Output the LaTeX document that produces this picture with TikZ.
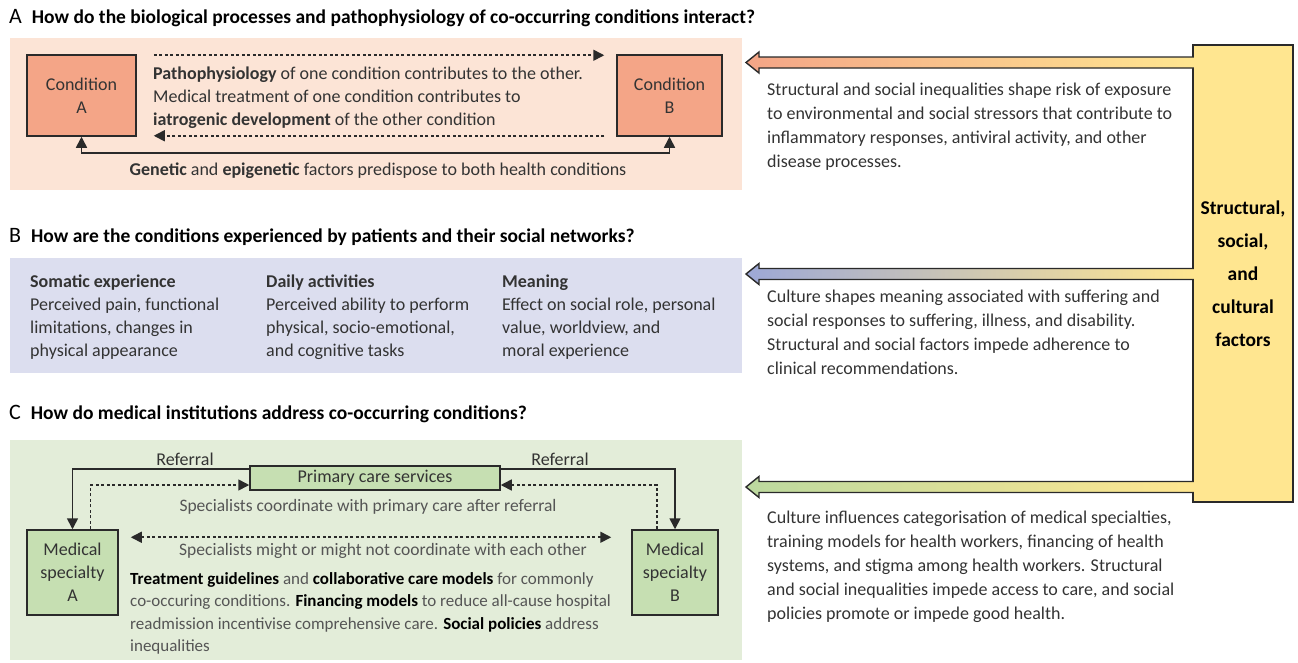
\documentclass[tikz,border=0pt]{standalone}
\usepackage{fontspec}
\setmainfont{Carlito}
\usepackage{xcolor}
\usetikzlibrary{positioning,calc,arrows.meta}

\definecolor{panelA}{HTML}{FCE4D6}
\definecolor{panelB}{HTML}{DCDEEF}
\definecolor{panelC}{HTML}{E3EDD9}
\definecolor{condfill}{HTML}{F4A587}
\definecolor{carefill}{HTML}{C6DFB2}
\definecolor{factorfill}{HTML}{FFE690}
\definecolor{bluearrow}{HTML}{9DA8D6}
\definecolor{greenarrow}{HTML}{BCD99F}
\definecolor{linecol}{HTML}{2A2A2A}
\definecolor{textcol}{HTML}{333333}
\definecolor{softtext}{HTML}{555555}

\begin{document}
\begin{tikzpicture}[x=1pt, y=-1pt,
	panel/.style={rectangle, inner sep=0pt, draw=none},
	box/.style={
		draw=linecol, line width=1.5pt, rectangle, align=center,
		inner sep=0pt, text=textcol, font=\fontsize{18}{23}\selectfont
	},
	bodytext/.style={align=left, inner sep=0pt, text=textcol, font=\fontsize{18}{23}\selectfont},
	sidetext/.style={align=left, inner sep=0pt, text=textcol, font=\fontsize{18}{24}\selectfont},
	titletext/.style={inner sep=0pt, text=black, font=\fontsize{19.5}{22}\selectfont\bfseries},
	dasharrow/.style={line width=1.6pt, draw=linecol, dash pattern=on 3pt off 2.5pt, -{Triangle[length=11pt,width=11pt]}},
	solidarrow/.style={line width=1.6pt, draw=linecol, -{Triangle[length=11pt,width=11pt]}},
	bigarrow/.style={draw=linecol, line width=1.4pt, line join=miter}
	]
	\useasboundingbox (0,0) rectangle (1298,662);
	
	%==================== A: biology ====================
	\node[titletext, anchor=west] (titleA) at (9,18) {{\fontsize{22}{22}\selectfont\mdseries A}\hspace{10pt}How do the biological processes and pathophysiology of co-occurring conditions interact?};
	\node[panel, fill=panelA, minimum width=732, minimum height=152] (panelA) at (376,114) {};
	
	\node[box, fill=condfill, minimum width=109, minimum height=81] (condA) at (81.5,95.5) {Condition\\A};
	\node[box, fill=condfill, minimum width=105, minimum height=81] (condB) at (669.5,95.5) {Condition\\B};
	
	\node[bodytext, anchor=north west] (mechtext) at (153,66.5) {\textbf{Pathophysiology} of one condition contributes to the other.\\Medical treatment of one condition contributes to\\\textbf{iatrogenic development} of the other condition};
	
	\draw[dasharrow] ($(condA.north east)+(17,1)$) -- ($(condB.north west)+(-12,1)$);
	\draw[dasharrow] ($(condB.south west)+(-12,-1)$) -- ($(condA.south east)+(17,-1)$);
	\draw[solidarrow, {Triangle[length=11pt,width=11pt]}-{Triangle[length=11pt,width=11pt]}] (condA.south) -- ++(0,16) -| (condB.south);
	
	\node[bodytext] (genetic) at (378,171) {\textbf{Genetic} and \textbf{epigenetic} factors predispose to both health conditions};
	
	%==================== B: experience ====================
	\node[titletext, anchor=west] (titleB) at (9,237) {{\fontsize{22}{22}\selectfont\mdseries B}\hspace{10pt}How are the conditions experienced by patients and their social networks?};
	\node[panel, fill=panelB, minimum width=732, minimum height=115] (panelB) at (376,315.5) {};
	
	\node[bodytext, anchor=north west] (somatic) at (30,275) {\textbf{Somatic experience}\\Perceived pain, functional\\limitations, changes in\\physical appearance};
	\node[bodytext, anchor=north west] (daily) at (266,275) {\textbf{Daily activities}\\Perceived ability to perform\\physical, socio-emotional,\\and cognitive tasks};
	\node[bodytext, anchor=north west] (meaning) at (502,275) {\textbf{Meaning}\\Effect on social role, personal\\value, worldview, and\\moral experience};
	
	%==================== C: institutions ====================
	\node[titletext, anchor=west] (titleC) at (9,414) {{\fontsize{22}{22}\selectfont\mdseries C}\hspace{10pt}How do medical institutions address co-occurring conditions?};
	\node[panel, fill=panelC, minimum width=732, minimum height=220] (panelC) at (376,550) {};
	
	\node[box, fill=carefill, minimum width=250, minimum height=24] (primary) at (375,478) {Primary care services};
	\node[box, fill=carefill, minimum width=91, minimum height=85] (specA) at (72.5,572.5) {Medical\\specialty\\A};
	\node[box, fill=carefill, minimum width=86, minimum height=85] (specB) at (675,572.5) {Medical\\specialty\\B};
	
	\draw[solidarrow] ($(primary.north west)+(0,4)$) -| (specA.north);
	\draw[solidarrow] ($(primary.north east)+(0,4)$) -| (specB.north);
	\node[bodytext] (referralA) at (185,459) {Referral};
	\node[bodytext] (referralB) at (560,459) {Referral};
	
	\draw[dasharrow] ($(specA.north)+(18,0)$) |- ($(primary.west)+(0,7)$);
	\draw[dasharrow] ($(specB.north)+(-18,0)$) |- ($(primary.east)+(0,7)$);
	\node[bodytext, text=softtext, font=\fontsize{17.5}{23}\selectfont] (coordtext) at (368,507) {Specialists coordinate with primary care after referral};
	
	\draw[dasharrow, {Triangle[length=11pt,width=11pt]}-{Triangle[length=11pt,width=11pt]}] ($(specA.north east)+(12,8)$) -- ($(specB.north west)+(-20,8)$);
	\node[bodytext, text=softtext, font=\fontsize{17.5}{23}\selectfont] (mighttext) at (383,551) {Specialists might or might not coordinate with each other};
	
	\node[bodytext, text=softtext, anchor=north west, font=\fontsize{17}{22.5}\selectfont] (policytext) at (130,572) {\textcolor{black}{\textbf{Treatment guidelines}} and \textcolor{black}{\textbf{collaborative care models}} for commonly\\co-occuring conditions. \textcolor{black}{\textbf{Financing models}} to reduce all-cause hospital\\readmission incentivise comprehensive care. \textcolor{black}{\textbf{Social policies}} address\\inequalities};
	
	%==================== structural, social, cultural factors ====================
	\node[box, fill=factorfill, minimum width=100, minimum height=457, text=black, font=\fontsize{19.5}{33}\selectfont\bfseries] (factors) at (1243,273.5) {Structural,\\social,\\and\\cultural\\factors};
	
	\coordinate (tipA) at (746,62.5);
	\coordinate (tipB) at (746,274);
	\coordinate (tipC) at (746,487);
	\path[bigarrow, left color=condfill, right color=factorfill] ($(factors.west |- tipA)+(1.5,-5.5)$) -- ($(tipA)+(13,-5.5)$) -- ($(tipA)+(13,-10.5)$) -- (tipA) -- ($(tipA)+(13,10.5)$) -- ($(tipA)+(13,5.5)$) -- ($(factors.west |- tipA)+(1.5,5.5)$);
	\path[bigarrow, left color=bluearrow, right color=factorfill] ($(factors.west |- tipB)+(1.5,-5.5)$) -- ($(tipB)+(13,-5.5)$) -- ($(tipB)+(13,-10.5)$) -- (tipB) -- ($(tipB)+(13,10.5)$) -- ($(tipB)+(13,5.5)$) -- ($(factors.west |- tipB)+(1.5,5.5)$);
	\path[bigarrow, left color=greenarrow, right color=factorfill] ($(factors.west |- tipC)+(1.5,-5.5)$) -- ($(tipC)+(13,-5.5)$) -- ($(tipC)+(13,-10.5)$) -- (tipC) -- ($(tipC)+(13,10.5)$) -- ($(tipC)+(13,5.5)$) -- ($(factors.west |- tipC)+(1.5,5.5)$);
	
	\node[sidetext, anchor=north west] (biotext) at (767,82.5) {Structural and social inequalities shape risk of exposure\\to environmental and social stressors that contribute to\\inflammatory responses, antiviral activity, and other\\disease processes.};
	\node[sidetext, anchor=north west] (culturetext) at (767,289.5) {Culture shapes meaning associated with suffering and\\social responses to suffering, illness, and disability.\\Structural and social factors impede adherence to\\clinical recommendations.};
	\node[sidetext, anchor=north west] (institutiontext) at (767,510.5) {Culture influences categorisation of medical specialties,\\training models for health workers, financing of health\\systems, and stigma among health workers. Structural\\and social inequalities impede access to care, and social\\policies promote or impede good health.};
	
\end{tikzpicture}
\end{document}
